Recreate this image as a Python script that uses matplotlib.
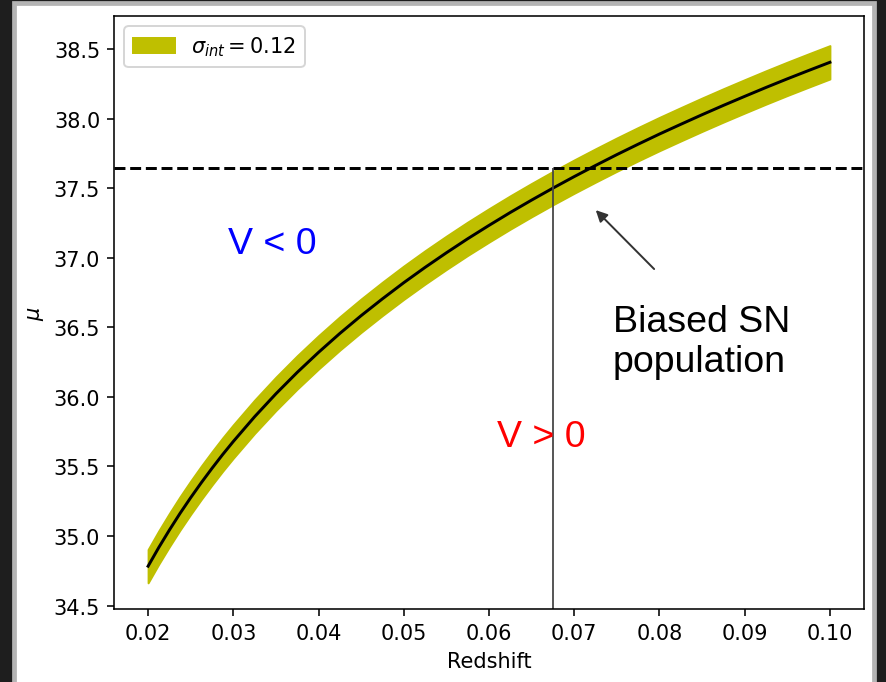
import matplotlib.pyplot as plt
from matplotlib.patches import Rectangle
import numpy as np

plt.rcParams["font.size"] = 10.6

# distance modulus along the fitted Hubble curve
redshift = [0.0200, 0.02125, 0.0225, 0.02375, 0.0250, 0.02625, 0.0275,
            0.02875, 0.0300, 0.0325, 0.0350, 0.0375, 0.0400, 0.0425,
            0.0450, 0.0475, 0.0500, 0.0525, 0.0550, 0.0575, 0.0600,
            0.0625, 0.0650, 0.0675, 0.0700, 0.0725, 0.0750, 0.0775,
            0.0800, 0.0825, 0.0850, 0.0875, 0.0900, 0.0925, 0.0950,
            0.0975, 0.1000]
mu = [34.783, 34.917, 35.043, 35.163, 35.276, 35.384, 35.487,
      35.586, 35.680, 35.858, 36.023, 36.177, 36.321, 36.457,
      36.585, 36.706, 36.822, 36.932, 37.037, 37.138, 37.234,
      37.327, 37.416, 37.502, 37.585, 37.665, 37.743, 37.818,
      37.891, 37.961, 38.030, 38.097, 38.162, 38.226, 38.288,
      38.348, 38.407]
sigma_int = 0.12

mu_cut = 37.65        # magnitude limit
z_cut = 0.0675        # redshift where the curve meets the limit
arrow_tail = (0.0797, 36.90)
arrow_head = (0.0722, 37.364)

z = np.array(redshift)
m = np.array(mu)

fig = plt.figure(figsize=(886 / 142, 683 / 142), dpi=142, facecolor="#1e1e1e")
fig.patches.append(Rectangle((14 / 886, -0.01), 860 / 886, 1.0041,
                             transform=fig.transFigure, facecolor="white",
                             edgecolor="#b4b4b4", linewidth=2.4, zorder=-5))
ax = fig.add_axes([114 / 886, 73 / 683, 750 / 886, 593 / 683])

ax.fill_between(z, m - sigma_int, m + sigma_int, color="y",
                label=r"$\sigma_{int} = 0.12$")
ax.plot(z, m, color="black", lw=1.5)

ax.set_xlim(0.016, 0.104)
ax.set_ylim(34.475, 38.74)
ax.axhline(mu_cut, color="black", ls="--", lw=1.5)
ax.vlines(z_cut, ax.get_ylim()[0], mu_cut, color="#444444", lw=0.9)

ax.annotate("", xy=arrow_head, xytext=arrow_tail,
            arrowprops=dict(arrowstyle="-|>", color="#333333", lw=1.0,
                            mutation_scale=12))

txt_font = ["Liberation Sans", "DejaVu Sans"]
ax.text(0.0294, 37.107, "V < 0", color="blue", fontsize=19,
        family=txt_font, va="center")
ax.text(0.0609, 35.714, "V > 0", color="red", fontsize=19,
        family=txt_font, va="center")
ax.text(0.07455, 36.40, "Biased SN\npopulation", color="black", fontsize=19,
        family=txt_font, va="center", linespacing=1.2)

ax.set_xticks(np.arange(0.02, 0.1001, 0.01))
ax.set_yticks(np.arange(34.5, 38.51, 0.5))
ax.set_xlabel("Redshift")
ax.set_ylabel(r"$\mu$")
ax.legend(loc="upper left")

fig.savefig("out.png", dpi=142, facecolor=fig.get_facecolor())
